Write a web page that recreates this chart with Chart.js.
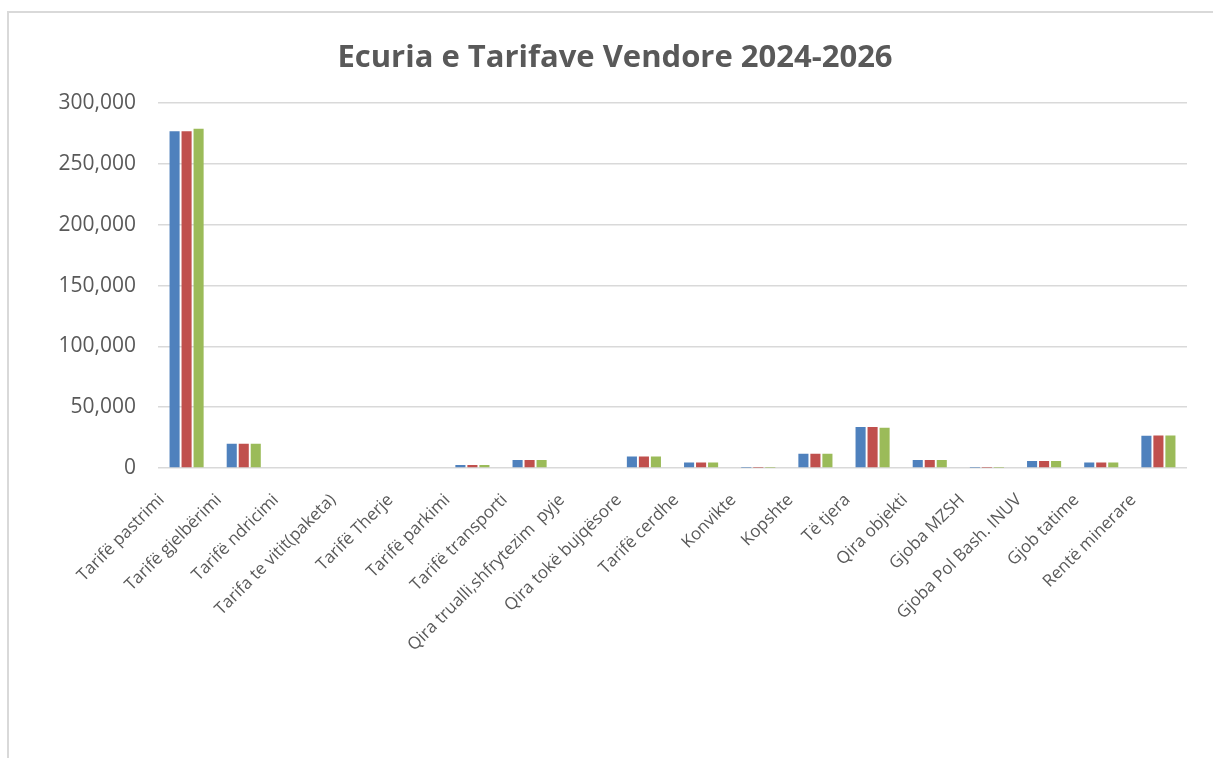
<!DOCTYPE html>
<html>
<head>
<meta charset="utf-8">
<script src="https://cdn.jsdelivr.net/npm/chart.js@4"></script>
<style>
  body { margin: 0; background: #fff; }
  #wrap { position: relative; width: 1213px; height: 758px; overflow: hidden; }
  #frame { position: absolute; left: 7px; top: 11px; width: 1230px; height: 780px; border: 2px solid #d9d9d9; box-sizing: border-box; }
  #myChart { position: absolute; left: 0; top: 0; }
</style>
</head>
<body>
<div id="wrap">
  <div id="frame"></div>
  <canvas id="myChart" width="1213" height="758"></canvas>
</div>
<script>
const categories = [
  'Tarifë pastrimi', 'Tarifë gjelbërimi', 'Tarifë ndricimi', 'Tarifa te vitit(paketa)',
  'Tarifë Therje', 'Tarifë parkimi', 'Tarifë transporti', 'Qira trualli,shfrytezim  pyje',
  'Qira tokë bujqësore', 'Tarifë cerdhe', 'Konvikte', 'Kopshte', 'Të tjera',
  'Qira objekti', 'Gjoba MZSH', 'Gjoba Pol Bash. INUV', 'Gjob tatime', 'Rentë minerare'
];
const values2024 = [277000, 20000, 0, 0, 0, 2500, 6600, 0, 9500, 4600, 300, 11800, 33800, 6600, 300, 5800, 4600, 26500];
const values2025 = [277000, 20000, 0, 0, 0, 2500, 6600, 0, 9500, 4600, 300, 11800, 33800, 6600, 300, 5800, 4600, 26700];
const values2026 = [279000, 20000, 0, 0, 0, 2500, 6600, 0, 9500, 4600, 300, 11800, 33000, 6600, 300, 5800, 4600, 26700];
const yTicks = [0, 50000, 100000, 150000, 200000, 250000, 300000];

const txt = '#595959';
const gridCol = '#d9d9d9';

let ctx = document.getElementById('myChart').getContext('2d');
let myChart = new Chart(ctx, {
  type: 'bar',
  data: {
    labels: categories,
    datasets: [
      { label: '2024', data: values2024, backgroundColor: '#4f81bd' },
      { label: '2025', data: values2025, backgroundColor: '#c0504d' },
      { label: '2026', data: values2026, backgroundColor: '#9bbb59' }
    ]
  },
  options: {
    responsive: false,
    animation: false,
    categoryPercentage: 0.63,
    barPercentage: 0.84,
    layout: { padding: { left: 43, right: 26, top: 14, bottom: 10 } },
    plugins: {
      legend: { display: false },
      tooltip: { enabled: false },
      title: {
        display: true,
        text: 'Ecuria e Tarifave Vendore 2024-2026',
        color: txt,
        font: { family: 'Open Sans', size: 31, weight: 'bold' },
        padding: { top: 26, bottom: 26 }
      }
    },
    scales: {
      x: {
        grid: { display: false },
        border: { display: false },
        afterFit: function (scale) { scale.height = 280; },
        ticks: {
          color: txt,
          minRotation: 45,
          maxRotation: 45,
          autoSkip: false,
          padding: 14,
          labelOffset: -25,
          font: { family: 'Open Sans', size: 17 }
        }
      },
      y: {
        min: 0,
        max: 300000,
        afterFit: function (scale) { scale.width = 115; },
        afterBuildTicks: function (scale) { scale.ticks = yTicks.map(v => ({ value: v })); },
        border: { display: false },
        grid: { color: gridCol, lineWidth: 1.5, drawTicks: false },
        ticks: {
          color: txt,
          padding: 22,
          font: { family: 'Open Sans', size: 21 },
          callback: v => v.toLocaleString('en-US')
        }
      }
    }
  }
});
</script>
</body>
</html>
